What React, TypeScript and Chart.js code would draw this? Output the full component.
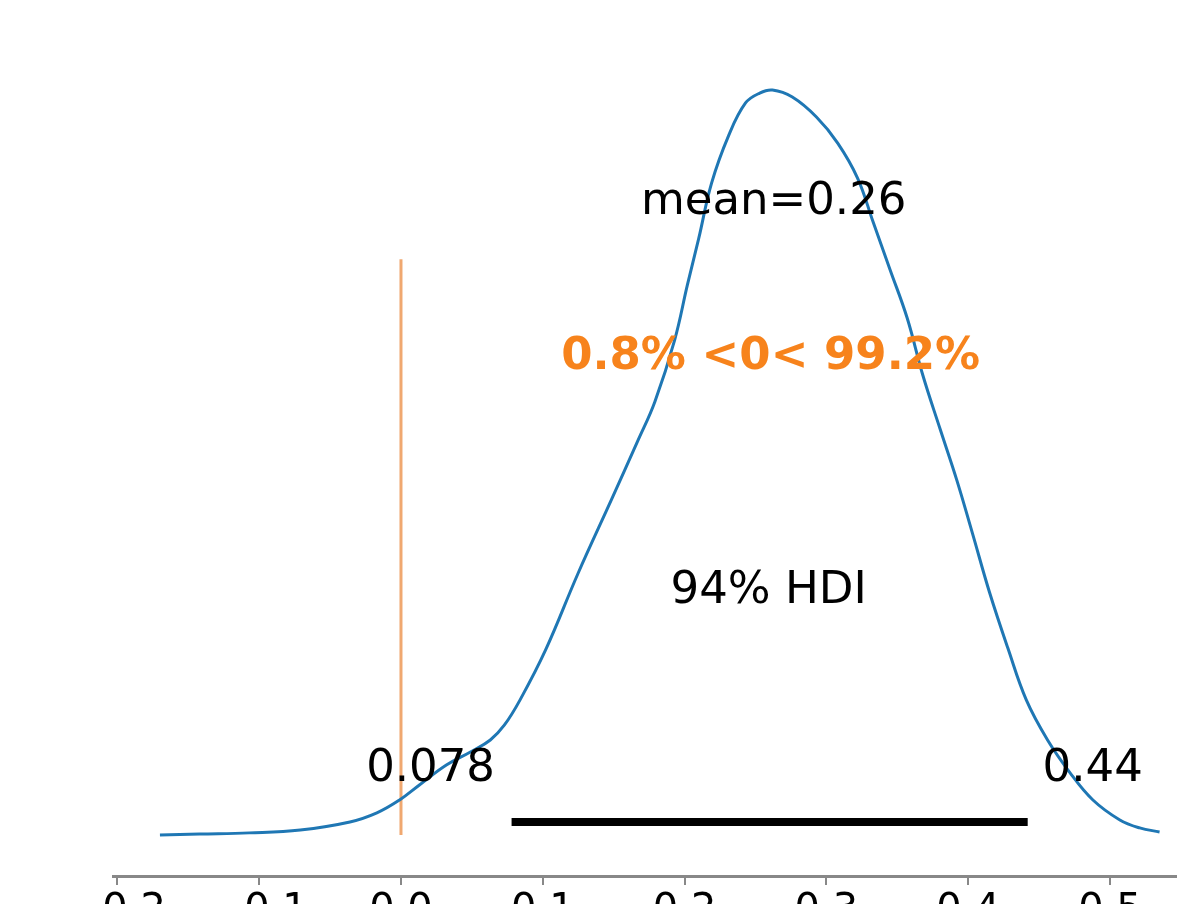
import React, { useEffect, useRef } from 'react';
import { Chart, registerables } from 'chart.js';

Chart.register(...registerables);

// KDE of the posterior (value, density)
const kdeX = [
  -0.170, -0.142, -0.107, -0.071, -0.036, -0.017, -0.001, 0.013, 0.032, 0.049,
  0.063, 0.073, 0.084, 0.102, 0.125, 0.149, 0.167, 0.179, 0.193, 0.202,
  0.210, 0.219, 0.231, 0.243, 0.253, 0.262, 0.276, 0.293, 0.308, 0.322,
  0.333, 0.345, 0.357, 0.368, 0.380, 0.392, 0.403, 0.415, 0.428, 0.441,
  0.456, 0.472, 0.488, 0.507, 0.521, 0.535,
];
const kdeY = [
  0.000, 0.005, 0.011, 0.026, 0.068, 0.116, 0.184, 0.263, 0.368, 0.437,
  0.500, 0.579, 0.711, 0.974, 1.379, 1.774, 2.074, 2.279, 2.605, 2.895,
  3.140, 3.430, 3.680, 3.853, 3.905, 3.921, 3.884, 3.779, 3.642, 3.458,
  3.226, 2.974, 2.721, 2.421, 2.142, 1.868, 1.589, 1.279, 0.984, 0.711,
  0.500, 0.326, 0.184, 0.079, 0.037, 0.016,
];

const hdiBounds = [0.078, 0.442];
const hdiLabel = '94% HDI';
const meanValue = 0.26;
const refValue = 0;
const probBelow = '0.8%';
const probAbove = '99.2%';
const xTickValues = [-0.2, -0.1, 0.0, 0.1, 0.2, 0.3, 0.4, 0.5];

const BLUE = '#1f77b4';
const ORANGE_TEXT = '#f7831c';
const ORANGE_LINE = '#f0a870';
const FONT = "'DejaVu Sans', 'Liberation Sans', sans-serif";

const textPlugin = {
  id: 'posteriorText',
  afterDatasetsDraw(chart: any) {
    const ctx = chart.ctx;
    const xs = chart.scales.x;
    const ys = chart.scales.y;
    ctx.save();
    ctx.textAlign = 'center';
    ctx.textBaseline = 'middle';

    ctx.fillStyle = '#000000';
    ctx.font = `45px ${FONT}`;
    ctx.fillText(`mean=${meanValue.toFixed(2)}`, xs.getPixelForValue(meanValue) + 4, ys.getPixelForValue(3.33));

    ctx.fillStyle = ORANGE_TEXT;
    ctx.font = `bold 45px ${FONT}`;
    ctx.fillText(`${probBelow} <${refValue}< ${probAbove}`, xs.getPixelForValue(meanValue) + 1, ys.getPixelForValue(2.515));

    ctx.fillStyle = '#000000';
    ctx.font = `45px ${FONT}`;
    ctx.fillText(hdiLabel, xs.getPixelForValue(meanValue) - 1, ys.getPixelForValue(1.28));

    ctx.fillText(hdiBounds[0].toFixed(3), xs.getPixelForValue(hdiBounds[0]) - 81, ys.getPixelForValue(0.345));
    ctx.fillText(hdiBounds[1].toFixed(2), xs.getPixelForValue(hdiBounds[1]) + 65, ys.getPixelForValue(0.345));
    ctx.restore();
  },
};

export default function App() {
  const canvasRef = useRef<HTMLCanvasElement | null>(null);

  useEffect(() => {
    const canvas = canvasRef.current;
    if (!canvas) return;
    const kdePoints = kdeX.map((x, i) => ({ x, y: kdeY[i] }));
    const chart = new Chart(canvas, {
      type: 'line',
      data: {
        datasets: [
          {
            data: kdePoints,
            borderColor: BLUE,
            borderWidth: 3,
            pointRadius: 0,
            tension: 0.4,
            order: 0,
          },
          {
            data: [
              { x: refValue, y: 0 },
              { x: refValue, y: 3.03 },
            ],
            borderColor: ORANGE_LINE,
            borderWidth: 3,
            pointRadius: 0,
            tension: 0,
            order: 1,
          },
          {
            data: [
              { x: hdiBounds[0], y: 0.068 },
              { x: hdiBounds[1], y: 0.068 },
            ],
            borderColor: '#000000',
            borderWidth: 8,
            borderCapStyle: 'butt',
            pointRadius: 0,
            tension: 0,
            order: 2,
          },
        ],
      },
      options: {
        responsive: false,
        animation: false,
        layout: { padding: { left: 113, right: 0, top: 0, bottom: 0 } },
        plugins: {
          legend: { display: false },
          tooltip: { enabled: false },
        },
        scales: {
          x: {
            type: 'linear',
            min: -0.2031,
            max: 0.5473,
            afterBuildTicks: (axis: any) => {
              axis.ticks = xTickValues.map((v) => ({ value: v }));
            },
            afterFit: (axis: any) => {
              axis.paddingLeft = 0;
              axis.paddingRight = 0;
              axis.height = 60;
            },
            grid: {
              drawOnChartArea: false,
              drawTicks: true,
              tickLength: 9,
              color: '#888888',
              lineWidth: 2,
            },
            border: { display: true, color: '#888888', width: 3 },
            ticks: {
              color: '#000000',
              padding: 3,
              maxRotation: 0,
              autoSkip: false,
              font: { family: FONT, size: 40 },
              callback: (v: any) => {
                const n = Number(v);
                const s = Math.abs(n).toFixed(1);
                return n < -1e-9 ? `\u2212${s}` : s;
              },
            },
          },
          y: {
            type: 'linear',
            display: false,
            min: -0.216,
            max: 4.395,
          },
        },
      },
      plugins: [textPlugin],
    } as any);
    return () => chart.destroy();
  }, []);

  return (
    <div
      style={{
        position: 'absolute',
        left: 0,
        top: 0,
        width: 1177,
        height: 904,
        overflow: 'hidden',
        background: '#ffffff',
      }}
    >
      <canvas ref={canvasRef} width={1177} height={936} style={{ display: 'block' }} />
    </div>
  );
}
